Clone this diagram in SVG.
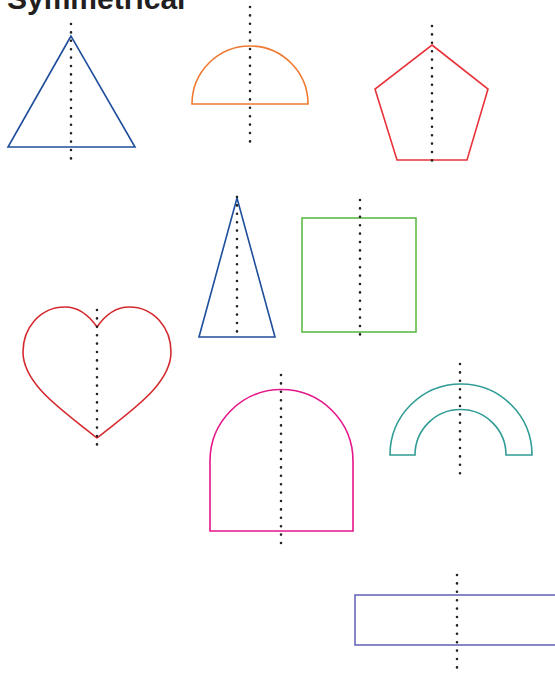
<svg xmlns="http://www.w3.org/2000/svg" width="555" height="677" viewBox="0 0 555 677">
<style>
.s{fill:none;stroke-width:1.6;stroke-linejoin:miter}
.d{stroke:#222;stroke-width:2.6;stroke-linecap:round;stroke-dasharray:0 8.4;fill:none}
.t{font-family:"Liberation Sans",Arial,sans-serif;font-weight:bold;font-size:30px;fill:#231f20}
</style>
<rect width="555" height="677" fill="#fff"/>
<text class="t" x="7" y="9">Symmetrical</text>
<g id="triangle"><polygon class="s" stroke="#1f4e9c" points="71,36 8,147 135,147"/></g>
<g id="semicircle"><path class="s" stroke="#f07830" d="M192,104 A58,58 0 0 1 308,104 Z"/></g>
<g id="pentagon"><polygon class="s" stroke="#e8333a" points="432,45 488,89 467,160 397,160 375,89"/></g>
<g id="tall-triangle"><polygon class="s" stroke="#1f4e9c" points="237,198 199,337 275,337"/></g>
<g id="square"><rect class="s" stroke="#5dbb46" x="302" y="218" width="114" height="114"/></g>
<g id="heart"><path class="s" stroke="#d42a2f" d="M97,327 C88,314 78,307 65,307 C40,307 23,328 23,352 C23,385 65,412 97,438 C129,412 171,385 171,352 C171,328 154,307 129,307 C116,307 106,314 97,327 Z"/></g>
<g id="arch"><path class="s" stroke="#e5168a" d="M210,531 L210,461 A71.5,71.5 0 0 1 353,461 L353,531 Z"/></g>
<g id="rainbow"><path class="s" stroke="#2f9c95" d="M390,455 A71,71 0 0 1 532,455 L506,455 A45.5,45.5 0 0 0 415,455 Z"/></g>
<g id="rectangle"><rect class="s" stroke="#6a6ab8" x="355" y="595" width="210" height="50"/></g>
<g id="connectors">
<line class="d" x1="71" y1="24" x2="71" y2="163"/>
<line class="d" x1="250" y1="7" x2="250" y2="147"/>
<line class="d" x1="432" y1="26" x2="432" y2="165"/>
<line class="d" x1="237" y1="197" x2="237" y2="336"/>
<line class="d" x1="360" y1="200" x2="360" y2="339"/>
<line class="d" x1="97" y1="310" x2="97" y2="449"/>
<line class="d" x1="281" y1="375" x2="281" y2="543"/>
<line class="d" x1="460" y1="364" x2="460" y2="477"/>
<line class="d" x1="457" y1="575" x2="457" y2="675"/>
</g>
</svg>
